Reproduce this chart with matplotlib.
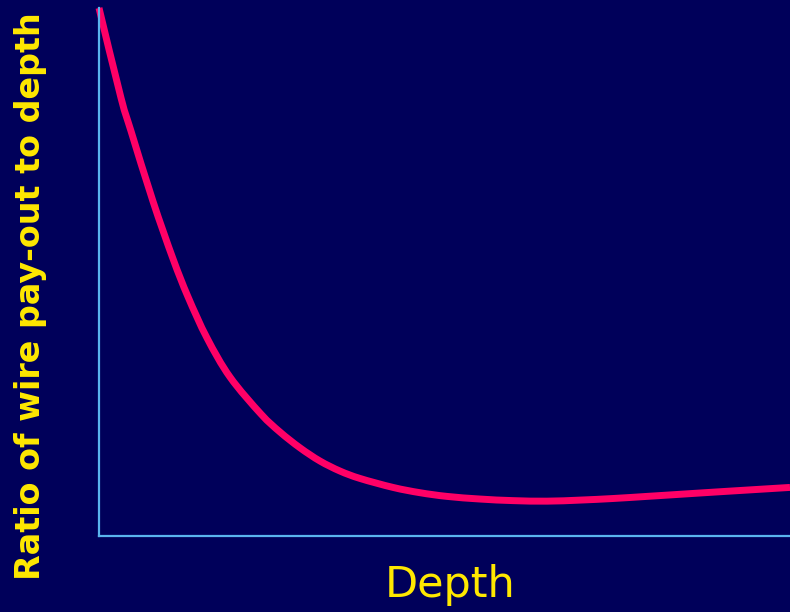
import matplotlib
matplotlib.use("Agg")
import matplotlib.pyplot as plt
from matplotlib.path import Path
from matplotlib.patches import PathPatch

depth = [0.0, 0.318, 0.463, 0.781, 1.071, 1.288, 1.563, 1.896, 2.344, 2.619, 2.909,
         3.198, 3.488, 3.777, 4.255, 4.645, 5.036, 5.514, 5.991, 6.483, 6.961,
         7.438, 7.930, 8.408, 8.886, 9.378, 10.0]
ratio = [10.0, 8.30, 7.67, 6.34, 5.25, 4.53, 3.75, 3.01, 2.31, 1.97, 1.67,
         1.42, 1.23, 1.09, 0.92, 0.82, 0.75, 0.70, 0.67, 0.66, 0.68,
         0.71, 0.75, 0.79, 0.83, 0.87, 0.92]

xlabel = "Depth"
ylabel = "Ratio of wire pay-out to depth"

bg = "#00005A"
axis_col = "#5AB4EE"
curve_col = "#FF0066"
text_col = "#FFE800"

fig = plt.figure(figsize=(7.9, 6.12), dpi=100, facecolor=bg)
ax = fig.add_axes([99/790, 76/612, 1 - 99/790, (536 - 8)/612])
ax.set_facecolor(bg)

# smooth curve through the read points (Catmull-Rom as cubic Bezier path, data coords)
pts = list(zip(depth, ratio))
n = len(pts)
verts = [pts[0]]
codes = [Path.MOVETO]
for i in range(n - 1):
    p0 = pts[i - 1] if i > 0 else pts[i]
    p1 = pts[i]
    p2 = pts[i + 1]
    p3 = pts[i + 2] if i + 2 < n else pts[i + 1]
    c1 = (p1[0] + (p2[0] - p0[0]) / 6, p1[1] + (p2[1] - p0[1]) / 6)
    c2 = (p2[0] - (p3[0] - p1[0]) / 6, p2[1] - (p3[1] - p1[1]) / 6)
    verts += [c1, c2, p2]
    codes += [Path.CURVE4] * 3
patch = PathPatch(Path(verts, codes), facecolor="none", edgecolor=curve_col, lw=5,
                  capstyle="butt", joinstyle="round", clip_on=False)
ax.add_patch(patch)

ax.set_xlim(0, 10)
ax.set_ylim(0, 10)
for s in ["top", "right"]:
    ax.spines[s].set_visible(False)
for s in ["left", "bottom"]:
    ax.spines[s].set_color(axis_col)
    ax.spines[s].set_linewidth(1.6)
ax.set_xticks([])
ax.set_yticks([])

fig.text(450/790, 1 - 585/612, xlabel, color=text_col, fontsize=31,
         family="DejaVu Sans", ha="center", va="center")
fig.text(31/790, 1 - 296/612, ylabel, color=text_col, fontsize=24, fontweight="bold",
         family="DejaVu Sans", rotation=90, ha="center", va="center")

fig.savefig("out.png", dpi=100, facecolor=bg)
